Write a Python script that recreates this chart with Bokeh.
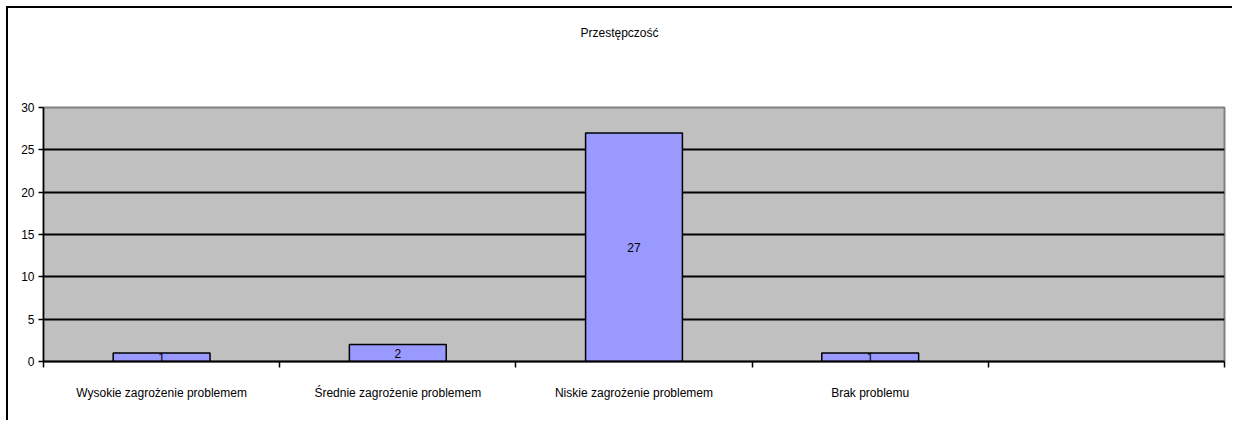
from bokeh.plotting import figure
from bokeh.models import ColumnDataSource, FixedTicker, Range1d, LabelSet, Title
from bokeh.core.properties import value
from bokeh.embed import file_html
from bokeh.resources import INLINE

categories = ["Wysokie zagrożenie problemem", "Średnie zagrożenie problemem",
              "Niskie zagrożenie problemem", "Brak problemu", ""]
values = [1, 2, 27, 1]
labels = ["1", "2", "27", "1"]
title_text = "Przestępczość"
yticks = [0, 5, 10, 15, 20, 25, 30]

FONT = "Liberation Sans"

xpos = [i + 0.5 for i in range(len(values))]
src = ColumnDataSource(dict(x=xpos, top=values, ymid=[v / 2 for v in values], lab=labels))

p = figure(width=1226, height=414, output_backend="svg", toolbar_location=None,
           x_range=Range1d(0, len(categories)), y_range=Range1d(0, 30),
           min_border_left=35, min_border_right=10, min_border_bottom=61, min_border_top=99)
p.styles = {"border-left": "2px solid black", "border-top": "2px solid black",
            "margin-left": "6px", "margin-top": "6px"}

# spacer (nearest the plot area), then the real title above it
p.add_layout(Title(text=" ", text_font_size="12px", standoff=52), "above")
p.add_layout(Title(text=title_text, align="left", offset=537, text_font=FONT,
                   text_font_size="12px", text_font_style="normal", text_color="#000000",
                   standoff=0), "above")

p.background_fill_color = "#C0C0C0"
p.border_fill_color = "white"
p.outline_line_color = "#808080"
p.outline_line_width = 2

p.vbar(x="x", top="top", bottom=0, width=0.41, source=src,
       fill_color="#9999FF", line_color="black", line_width=1.5)

p.add_layout(LabelSet(x="x", y="ymid", text="lab", source=src, text_align="center",
                      text_baseline="middle", text_font=value(FONT), text_font_size=value("12px"),
                      text_color=value("#000000")))

xa = p.xaxis[0]
xa.ticker = FixedTicker(ticks=[i + 0.5 for i in range(len(categories))],
                        minor_ticks=list(range(len(categories) + 1)))
xa.major_label_overrides = {i + 0.5: c for i, c in enumerate(categories)}
xa.major_tick_line_color = None
xa.minor_tick_line_color = "black"
xa.minor_tick_in = 0
xa.minor_tick_out = 6
xa.minor_tick_line_width = 1.5
xa.axis_line_color = "black"
xa.axis_line_width = 2
xa.major_label_standoff = 18
xa.major_label_text_font = FONT
xa.major_label_text_font_size = "12px"
xa.major_label_text_color = "#000000"

ya = p.yaxis[0]
ya.ticker = FixedTicker(ticks=yticks)
ya.major_tick_in = 0
ya.major_tick_out = 5
ya.major_tick_line_width = 1.5
ya.minor_tick_line_color = None
ya.axis_line_color = "black"
ya.axis_line_width = 1.5
ya.major_label_standoff = 4
ya.major_label_text_font = FONT
ya.major_label_text_font_size = "12px"
ya.major_label_text_color = "#000000"

p.xgrid.grid_line_color = None
p.ygrid.grid_line_color = "black"
p.ygrid.grid_line_width = 2
p.ygrid.ticker = FixedTicker(ticks=yticks[1:-1])

open("out.html", "w").write(file_html(p, INLINE))
